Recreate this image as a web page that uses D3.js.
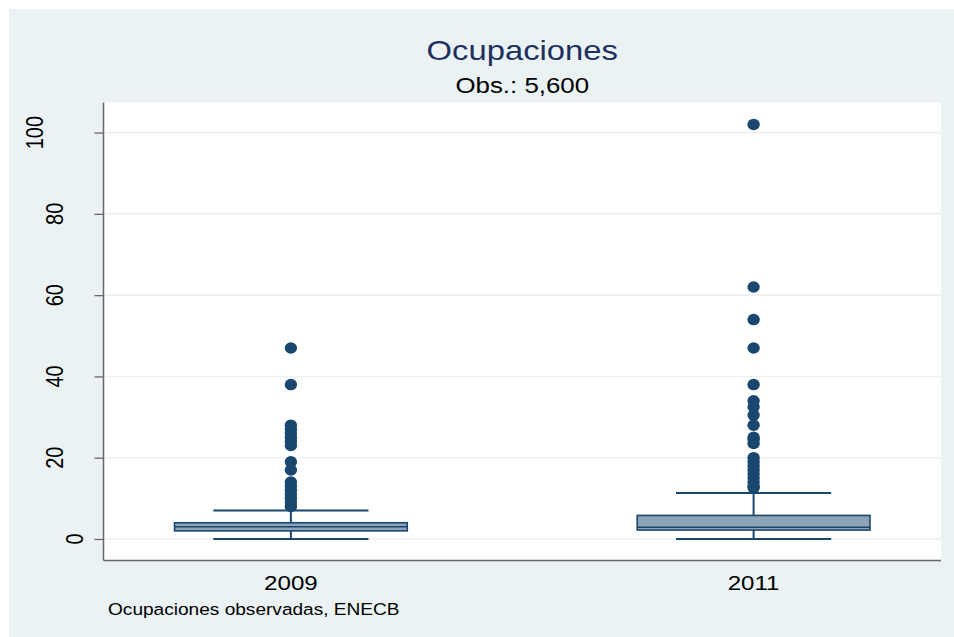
<!DOCTYPE html>
<html>
<head>
<meta charset="utf-8">
<script src="https://cdn.jsdelivr.net/npm/d3@7"></script>
<style>
  body { margin: 0; background: #ffffff; }
  text { font-family: "Liberation Sans", Arial, sans-serif; }
</style>
</head>
<body>
<div class="chart"></div>
<script>
// chart values
const years = ['2009', '2011'];
const q1 = [2, 2.2];
const median = [3, 2.9];
const q3 = [4, 5.8];
const whiskerLow = [0, 0];
const whiskerHigh = [7, 11.3];
const outliers2009 = [8, 9, 10, 11, 12, 13, 14, 17, 19, 23, 24, 25, 26, 27, 28, 38, 47];
const outliers2011 = [12.6, 13, 14, 15, 16, 17, 18, 19, 20, 23.5, 24.5, 25, 28, 30.5, 32.5, 34, 38, 47, 54, 62, 102];
const yTicks = [0, 20, 40, 60, 80, 100];
const titleText = 'Ocupaciones';
const subtitleText = 'Obs.: 5,600';
const noteText = 'Ocupaciones observadas, ENECB';

const width = 954;
const height = 637;
const stretch = 1.15;   // the original image is a bit wider than tall
const navy = '#1a476f';

const svg = d3.select('.chart')
    .append('svg')
    .attr('width', width)
    .attr('height', height);

// outer panel
svg.append('rect')
    .attr('x', 9).attr('y', 9)
    .attr('width', width - 9).attr('height', height - 9)
    .attr('fill', '#eaf2f3');

const plot = { left: 103.5, right: 941, top: 102.5, bottom: 560.5 };

svg.append('rect')
    .attr('x', plot.left).attr('y', plot.top)
    .attr('width', plot.right - plot.left).attr('height', plot.bottom - plot.top)
    .attr('fill', '#ffffff');

const y = d3.scaleLinear().domain([-5.29, 107.4]).range([plot.bottom, plot.top]);
const x = d3.scalePoint().domain(years).range([plot.left, plot.right]).padding(0.405);
const boxWidth = x.step() * 0.503;
const capWidth = boxWidth * 2 / 3;

// gridlines
svg.append('g')
    .selectAll('line')
    .data(yTicks)
    .enter().append('line')
    .attr('x1', plot.left).attr('x2', plot.right)
    .attr('y1', d => y(d)).attr('y2', d => y(d))
    .attr('stroke', '#eaf2f3')
    .attr('stroke-width', 1.6);

// y axis with rotated labels
const yAxis = svg.append('g')
    .attr('transform', `translate(${plot.left}, 0)`)
    .call(d3.axisLeft(y).tickValues(yTicks).tickSize(9).tickFormat(d3.format('d')));
yAxis.select('.domain').remove();
yAxis.selectAll('.tick line').attr('stroke', '#666666').attr('stroke-width', 1.3);
yAxis.selectAll('.tick text').remove();

svg.append('g')
    .selectAll('text')
    .data(yTicks)
    .enter().append('text')
    .attr('transform', d => {
        const len = String(d).length;
        const bx = 83 - 20 * (len - 1);
        return `translate(${bx}, ${y(d)}) scale(${stretch}, 1) rotate(-90)`;
    })
    .attr('text-anchor', 'middle')
    .attr('font-size', 20)
    .attr('fill', '#000000')
    .text(d => d);

// axis lines
svg.append('line')
    .attr('x1', plot.left).attr('x2', plot.left)
    .attr('y1', plot.top).attr('y2', plot.bottom)
    .attr('stroke', '#666666').attr('stroke-width', 1.5);
svg.append('line')
    .attr('x1', plot.left).attr('x2', plot.right)
    .attr('y1', plot.bottom).attr('y2', plot.bottom)
    .attr('stroke', '#666666').attr('stroke-width', 1.5);

// boxes
const boxes = years.map((yr, i) => ({
    year: yr, q1: q1[i], median: median[i], q3: q3[i],
    lo: whiskerLow[i], hi: whiskerHigh[i],
    outliers: i === 0 ? outliers2009 : outliers2011
}));

const g = svg.append('g')
    .selectAll('g')
    .data(boxes)
    .enter().append('g')
    .attr('transform', d => `translate(${x(d.year)}, 0)`);

// whisker stems
g.append('line')
    .attr('x1', 0).attr('x2', 0)
    .attr('y1', d => y(d.q3)).attr('y2', d => y(d.hi))
    .attr('stroke', navy).attr('stroke-width', 2);
g.append('line')
    .attr('x1', 0).attr('x2', 0)
    .attr('y1', d => y(d.q1)).attr('y2', d => y(d.lo))
    .attr('stroke', navy).attr('stroke-width', 2);

// caps
g.append('line')
    .attr('x1', -capWidth / 2).attr('x2', capWidth / 2)
    .attr('y1', d => y(d.hi)).attr('y2', d => y(d.hi))
    .attr('stroke', navy).attr('stroke-width', 2);
g.append('line')
    .attr('x1', -capWidth / 2).attr('x2', capWidth / 2)
    .attr('y1', d => y(d.lo)).attr('y2', d => y(d.lo))
    .attr('stroke', navy).attr('stroke-width', 2.2);

// box body
g.append('rect')
    .attr('x', -boxWidth / 2)
    .attr('width', boxWidth)
    .attr('y', d => y(d.q3))
    .attr('height', d => y(d.q1) - y(d.q3))
    .attr('fill', '#8ea3b8')
    .attr('stroke', navy)
    .attr('stroke-width', 1.6);

g.append('line')
    .attr('x1', -boxWidth / 2).attr('x2', boxWidth / 2)
    .attr('y1', d => y(d.median)).attr('y2', d => y(d.median))
    .attr('stroke', navy).attr('stroke-width', 1.4);

// outliers
g.selectAll('ellipse')
    .data(d => d.outliers)
    .enter().append('ellipse')
    .attr('cx', 0)
    .attr('cy', d => y(d))
    .attr('rx', 6.2)
    .attr('ry', 5.8)
    .attr('fill', navy);

// category labels
svg.append('g')
    .selectAll('text')
    .data(years)
    .enter().append('text')
    .attr('transform', d => `translate(${x(d)}, 590) scale(${stretch}, 1)`)
    .attr('text-anchor', 'middle')
    .attr('font-size', 21)
    .attr('fill', '#000000')
    .text(d => d);

// titles
const midX = (plot.left + plot.right) / 2;
svg.append('text')
    .attr('transform', `translate(${midX}, 59.5) scale(${stretch}, 1)`)
    .attr('text-anchor', 'middle')
    .attr('font-size', 28.5)
    .attr('fill', '#1e2f5e')
    .text(titleText);

svg.append('text')
    .attr('transform', `translate(${midX}, 93) scale(${stretch}, 1)`)
    .attr('text-anchor', 'middle')
    .attr('font-size', 22.5)
    .attr('fill', '#000000')
    .text(subtitleText);

svg.append('text')
    .attr('transform', `translate(108, 615) scale(${stretch}, 1)`)
    .attr('font-size', 16.6)
    .attr('fill', '#000000')
    .text(noteText);
</script>
</body>
</html>
